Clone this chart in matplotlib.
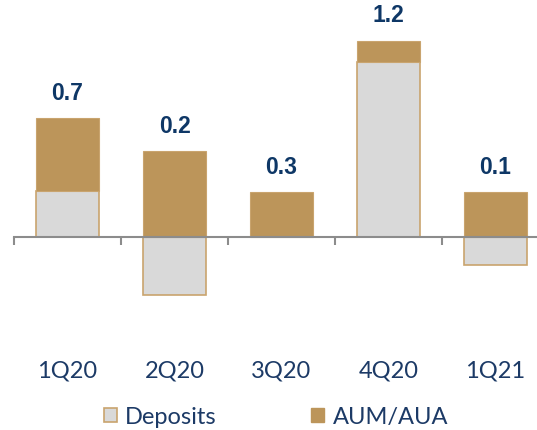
import numpy as np
import matplotlib
matplotlib.use('Agg')
import matplotlib.pyplot as plt
from matplotlib.patches import Patch

quarters = ['1Q20', '2Q20', '3Q20', '4Q20', '1Q21']
deposits = [0.28, -0.35, 0.0, 1.06, -0.17]
aum_aua = [0.44, 0.52, 0.27, 0.13, 0.27]
totals = ['0.7', '0.2', '0.3', '1.2', '0.1']

gold = '#BC955A'
grey = '#D9D9D9'
navy = '#0E3766'
label_blue = '#1C3A66'

fig = plt.figure(figsize=(5.37, 4.31), dpi=100)
ax = fig.add_axes([14 / 537, 0, 535 / 537, 1])

x = np.arange(len(quarters))
dep = np.array(deposits)
aum = np.array(aum_aua)
w = 0.58

ax.bar(x, dep, w, color=grey, edgecolor='#C9A46E', linewidth=1.2, zorder=2)
aum_bottom = np.where(dep > 0, dep, 0)
ax.bar(x, aum, w, bottom=aum_bottom, color=gold, edgecolor='#C9A46E',
       linewidth=0.8, zorder=3)

tops = aum_bottom + aum
for xi, top, lab in zip(x, tops, totals):
    ax.annotate(lab, (xi, top), xytext=(0, 10.5), textcoords='offset points',
                ha='center', va='bottom', fontsize=16.5, fontweight='bold',
                color=navy, family='Liberation Sans')

ax.set_xlim(-0.5, len(quarters) - 0.5)
ax.set_ylim(-193 / 165, 238 / 165)

for s in ['top', 'right', 'left']:
    ax.spines[s].set_visible(False)
ax.spines['bottom'].set_position(('data', 0))
ax.spines['bottom'].set_color('#8C8C8C')
ax.spines['bottom'].set_linewidth(1.5)
ax.spines['bottom'].set_zorder(4)
ax.set_yticks([])

ax.set_xticks(x)
ax.set_xticklabels(quarters, fontsize=17, color=label_blue, family='Lato')
ax.set_xticks(np.arange(-0.5, len(quarters), 1), minor=True)
ax.tick_params(axis='x', which='major', length=0, pad=88)
ax.tick_params(axis='x', which='minor', length=6, width=1.5, color='#8C8C8C',
               direction='out')

handles = [Patch(facecolor=grey, edgecolor='#C9A46E', linewidth=1.2),
           Patch(facecolor=gold, edgecolor=gold)]
fig.legend(handles, ['Deposits', 'AUM/AUA'], loc='center',
           bbox_to_anchor=(276 / 537, 1 - 418 / 431), ncol=2, frameon=False,
           prop={'family': 'Lato', 'size': 17}, labelcolor=label_blue,
           handlelength=0.55, handleheight=0.55, handletextpad=0.35,
           columnspacing=4.0)

fig.savefig('out.png', dpi=100)
